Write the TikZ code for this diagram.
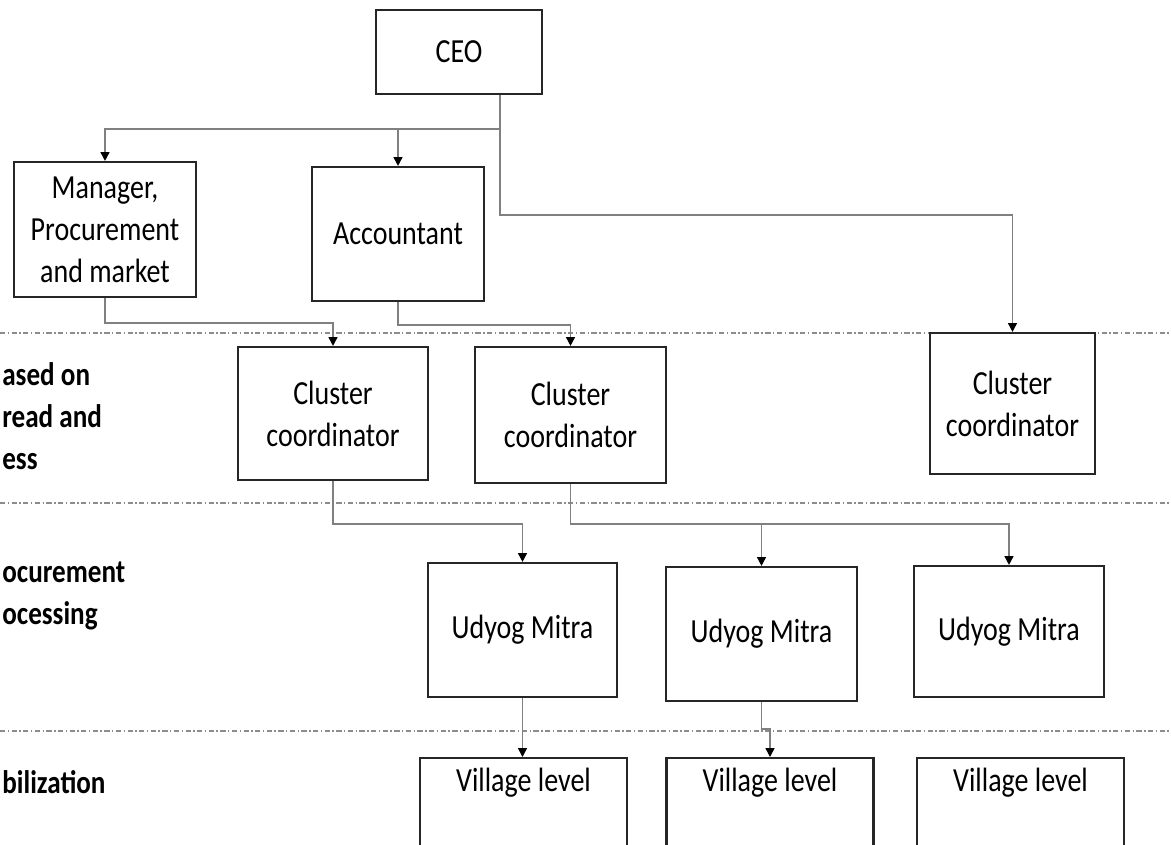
\documentclass[tikz,border=0pt]{standalone}
\usepackage{fontspec}
\setmainfont{Carlito}[FakeStretch=0.83]
\usetikzlibrary{arrows.meta}
\tikzset{
  box/.style={draw=black!85, line width=1.2pt, fill=white, align=center, inner sep=0pt},
  vbox/.style={box, anchor=north, minimum width=4.14cm, inner ysep=0pt, text height=0.66cm, text depth=2.3cm},
  conn/.style={draw=black!50, line width=0.9pt, -{Triangle[width=5pt,length=5pt,color=black]}},
  sepline/.style={draw=black!45, line width=0.7pt, dash pattern=on 3pt off 1.4pt on 0.8pt off 1.4pt},
  lbl/.style={anchor=west, align=left, inner sep=0pt, font=\bfseries\fontsize{18.6pt}{23.9pt}\selectfont}
}
\begin{document}
\begin{tikzpicture}[x=0.02cm, y=-0.02cm, font=\fontsize{19.2pt}{23.9pt}\selectfont]
  \useasboundingbox (0,0) rectangle (1171,845);
  \fill[white] (0,0) rectangle (1171,845);
  \draw[sepline] (0,333)--(1171,333);
  \draw[sepline] (0,503)--(1171,503);
  \draw[sepline] (0,731)--(1171,731);
  \node[lbl] (lblA) at (2,416) {ased on\\read and\\ess};
  \node[lbl] (lblB) at (2,596) {ocurement\\ocessing};
  \node[lbl] (lblC) at (2,782) {bilization};
  \node[box, minimum width=3.32cm, minimum height=1.68cm] (ceo) at (459,52) {CEO};
  \node[box, minimum width=3.64cm, minimum height=2.70cm] (mgr) at (105,229.5) {Manager,\\Procurement\\and market};
  \node[box, minimum width=3.44cm, minimum height=2.68cm] (acc) at (398,234) {Accountant};
  \node[box, minimum width=3.80cm, minimum height=2.66cm] (cc1) at (333,413.5) {Cluster\\coordinator};
  \node[box, minimum width=3.82cm, minimum height=2.72cm] (cc2) at (570.5,415) {Cluster\\coordinator};
  \node[box, minimum width=3.30cm, minimum height=2.82cm] (cc3) at (1012.5,403.5) {Cluster\\coordinator};
  \node[box, minimum width=3.78cm, minimum height=2.68cm] (um1) at (522.5,630) {Udyog Mitra};
  \node[box, minimum width=3.82cm, minimum height=2.68cm] (um2) at (761.5,634) {Udyog Mitra};
  \node[box, minimum width=3.80cm, minimum height=2.62cm] (um3) at (1009,631.5) {Udyog Mitra};
  \node[vbox] (vl1) at (523.5,757) {Village level};
  \node[vbox] (vl2) at (770,757) {Village level};
  \node[vbox] (vl3) at (1020.5,757) {Village level};
  \coordinate (b0) at (500,129);
  \coordinate (b1) at (500,215);
  \coordinate (b2) at (0,323);
  \coordinate (b3) at (0,325);
  \coordinate (b4) at (0,524);
  \coordinate (b6) at (0,729);
  \draw[conn] (ceo.south -| b0) -- (b0) -| (mgr.north);
  \draw[conn] (b0) -| (acc.north);
  \draw[conn] (b0) -- (b1) -| (cc3.north);
  \draw[conn] (mgr.south) -- (mgr.south |- b2) -| (cc1.north);
  \draw[conn] (acc.south) -- (acc.south |- b3) -| (cc2.north);
  \draw[conn] (cc1.south) -- (cc1.south |- b4) -| (um1.north);
  \draw[conn] (cc2.south) -- (cc2.south |- b4) -| (um2.north);
  \draw[conn] (cc2.south |- b4) -| (um3.north);
  \draw[conn] (um1.south) -- (um1.south |- vl1.north);
  \draw[conn] (um2.south) -- (um2.south |- b6) -| (vl2.north);
\end{tikzpicture}
\end{document}
